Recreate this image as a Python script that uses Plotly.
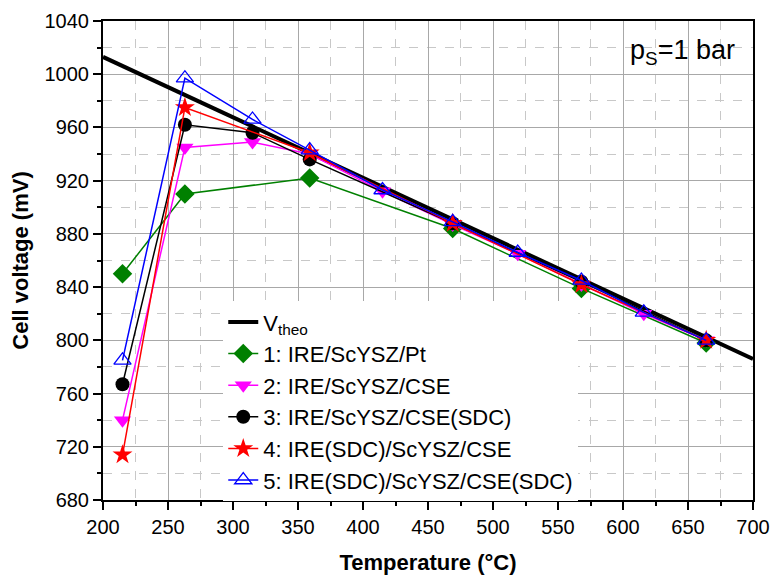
import plotly.graph_objects as go

# Theoretical cell voltage (straight line across the temperature range)
t_theo = [200, 700]
v_theo = [1013, 786]

# Measured cell voltages (mV) vs temperature (°C)
t_1 = [215, 263, 359, 469, 568, 664]
v_1 = [850, 910, 922, 884, 839, 798]

t_2 = [215, 263, 315, 359, 415, 469, 519, 568, 616, 664]
v_2 = [740, 945, 949, 940, 912, 887, 865, 842, 820, 800]

t_3 = [215, 263, 315, 359, 469, 568, 664]
v_3 = [767, 962, 956, 936, 888, 844, 800]

t_4 = [215, 263, 359, 469, 568, 664]
v_4 = [714, 975, 941, 888, 842, 800]

t_5 = [215, 263, 315, 359, 415, 469, 519, 568, 616, 664]
v_5 = [785, 997, 966, 943, 913, 889, 866, 845, 821, 800]

names = [
    "1: IRE/ScYSZ/Pt",
    "2: IRE/ScYSZ/CSE",
    "3: IRE/ScYSZ/CSE(SDC)",
    "4: IRE(SDC)/ScYSZ/CSE",
    "5: IRE(SDC)/ScYSZ/CSE(SDC)",
]

x_ticks = list(range(200, 701, 50))
y_ticks = list(range(680, 1041, 40))

FONT = "Liberation Sans, Arial, sans-serif"

fig = go.Figure()

fig.add_trace(go.Scatter(
    x=t_theo, y=v_theo, mode="lines", name="V<sub>theo</sub>",
    line=dict(color="black", width=4),
))

series = [
    (t_1, v_1, "#008000", dict(symbol="diamond", size=15, color="#008000")),
    (t_2, v_2, "#ff00ff", dict(symbol="triangle-down", size=15, color="#ff00ff")),
    (t_3, v_3, "black", dict(symbol="circle", size=14, color="black")),
    (t_4, v_4, "#ff0000", dict(symbol="star", size=15, color="#ff0000")),
    (t_5, v_5, "#0000ff", dict(symbol="triangle-up-open", size=15, color="#0000ff",
                              line=dict(width=1.3, color="#0000ff"))),
]
for (tx, vy, col, mk), nm in zip(series, names):
    fig.add_trace(go.Scatter(
        x=tx, y=vy, mode="lines+markers", name=nm,
        line=dict(color=col, width=1.5), marker=mk,
    ))

axis_common = dict(
    showline=True, linecolor="black", linewidth=2, mirror=True,
    ticks="outside", ticklen=8, tickwidth=1.5, tickcolor="black",
    showgrid=True, gridcolor="#a8a8a8", gridwidth=1,
    tickfont=dict(family=FONT, size=20, color="black"),
    zeroline=False, automargin=False,
)

inner_ticks = dict(
    ticks="inside", ticklen=8, tickwidth=1.5, tickcolor="black",
    showticklabels=False, showgrid=False, showline=False, zeroline=False,
    automargin=False,
)

fig.update_layout(
    width=773, height=581,
    margin=dict(l=103, r=20, t=21, b=81),
    paper_bgcolor="white", plot_bgcolor="white",
    font=dict(family=FONT, color="black"),
    xaxis=dict(
        **axis_common, range=[200, 700], tickvals=x_ticks,
        minor=dict(dtick=25, tick0=200, ticks="outside", ticklen=4, tickwidth=1.5,
                   tickcolor="black", showgrid=True, gridcolor="#c8c8c8", griddash="dash"),
        title=dict(text="<b>Temperature (°C)</b>", font=dict(family=FONT, size=22), standoff=18),
    ),
    yaxis=dict(
        **axis_common, range=[680, 1040], tickvals=y_ticks,
        minor=dict(dtick=20, tick0=680, ticks="outside", ticklen=4, tickwidth=1.5,
                   tickcolor="black", showgrid=True, gridcolor="#c8c8c8", griddash="dash"),
        title=dict(text="<b>Cell voltage (mV)</b>", font=dict(family=FONT, size=22), standoff=10),
    ),
    xaxis2=dict(
        **inner_ticks, overlaying="x", side="top", anchor="y", range=[200, 700], tickvals=x_ticks,
        minor=dict(dtick=25, tick0=200, ticks="inside", ticklen=4, tickwidth=1.5, tickcolor="black"),
    ),
    yaxis2=dict(
        **inner_ticks, overlaying="y", side="right", anchor="x", range=[680, 1040], tickvals=y_ticks,
        minor=dict(dtick=20, tick0=680, ticks="inside", ticklen=4, tickwidth=1.5, tickcolor="black"),
    ),
    legend=dict(
        x=0.185, y=0.415, xanchor="left", yanchor="top",
        bgcolor="white", borderwidth=0,
        font=dict(family=FONT, size=22, color="black"),
        tracegroupgap=0,
    ),
    annotations=[dict(
        text="p<sub>S</sub>=1 bar", x=0.975, y=0.975, xref="paper", yref="paper",
        xanchor="right", yanchor="top", showarrow=False,
        font=dict(family=FONT, size=27, color="black"),
    )],
)

fig.write_html("out.html")
